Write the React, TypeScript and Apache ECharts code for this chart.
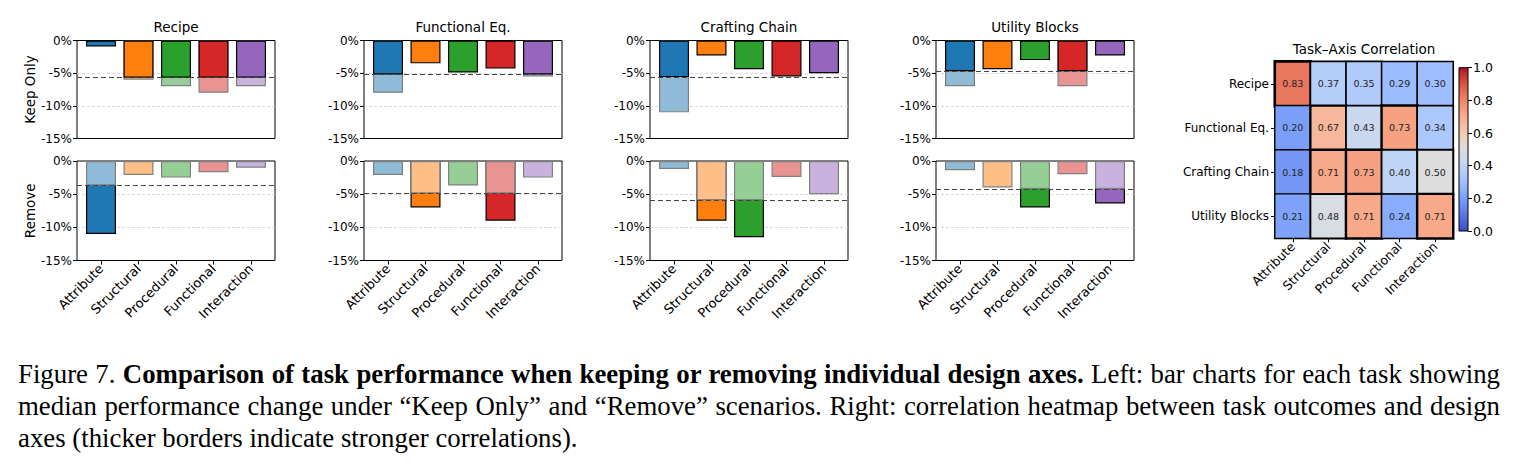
import React, { useEffect, useRef } from 'react';
import * as echarts from 'echarts';

// ---------- data ----------
const tasks = ['Recipe', 'Functional Eq.', 'Crafting Chain', 'Utility Blocks'];
const designAxes = ['Attribute', 'Structural', 'Procedural', 'Functional', 'Interaction'];
const scenarios = ['Keep Only', 'Remove'];

const keepRecipe = [-0.9, -6.0, -7.0, -8.0, -7.0];
const keepFunctionalEq = [-8.0, -3.5, -4.9, -4.3, -5.5];
const keepCraftingChain = [-11.0, -2.3, -4.4, -5.5, -5.0];
const keepUtilityBlocks = [-7.0, -4.4, -3.0, -7.0, -2.3];

const removeRecipe = [-11.0, -2.1, -2.5, -1.7, -1.0];
const removeFunctionalEq = [-2.1, -7.0, -3.7, -9.0, -2.5];
const removeCraftingChain = [-1.2, -9.0, -11.5, -2.4, -5.0];
const removeUtilityBlocks = [-1.4, -4.0, -7.0, -2.0, -6.4];

const keepReference = [-5.7, -5.2, -5.6, -4.7];
const removeReference = [-3.7, -4.9, -5.9, -4.2];

const yTicks = [0, -5, -10, -15];

const corrRecipe = [0.83, 0.37, 0.35, 0.29, 0.30];
const corrFunctionalEq = [0.20, 0.67, 0.43, 0.73, 0.34];
const corrCraftingChain = [0.18, 0.71, 0.73, 0.40, 0.50];
const corrUtilityBlocks = [0.21, 0.48, 0.71, 0.24, 0.71];
const colorbarTicks = [0, 0.2, 0.4, 0.6, 0.8, 1.0];

// ---------- styles ----------
const darkColors = ['#1f77b4', '#ff7f0e', '#2ca02c', '#d62728', '#9467bd'];
const lightColors = ['#8fbbd9', '#ffbf86', '#95cf95', '#ea9393', '#c9b3de'];
const coolwarm = [
  '#3b4cc0', '#445acc', '#4d68d7', '#5775e1', '#6282ea', '#6c8ef1', '#779af7', '#82a5fb',
  '#8db0fe', '#98b9ff', '#a3c2ff', '#aec9fd', '#b8d0f9', '#c2d5f4', '#ccd9ee', '#d5dbe6',
  '#dddddd', '#e5d8d1', '#ecd3c5', '#f1ccb8', '#f5c4ac', '#f7bb9f', '#f7b193', '#f7a686',
  '#f49a7b', '#f18d6f', '#ec7f63', '#e57058', '#de604d', '#d55042', '#cb3e38', '#c0282f',
  '#b40426',
];

const FONT = 'DejaVu Sans';
const colLeft = [77, 364, 650, 936];
const rowTop = [40.5, 161];
const rowHeight = [98, 99.5];
const panelWidth = 198;

function App() {
  const ref = useRef<HTMLDivElement>(null);

  useEffect(() => {
    if (!ref.current) return;
    const chart = echarts.init(ref.current, undefined, { renderer: 'svg' });

    const keepVals = [keepRecipe, keepFunctionalEq, keepCraftingChain, keepUtilityBlocks];
    const removeVals = [removeRecipe, removeFunctionalEq, removeCraftingChain, removeUtilityBlocks];
    const corr = [corrRecipe, corrFunctionalEq, corrCraftingChain, corrUtilityBlocks];

    const grids: any[] = [];
    const xAxes: any[] = [];
    const yAxes: any[] = [];
    const series: any[] = [];

    for (let r = 0; r < 2; r++) {
      for (let c = 0; c < 4; c++) {
        const gi = r * 4 + c;
        grids.push({
          left: colLeft[c], top: rowTop[r], width: panelWidth, height: rowHeight[r],
          show: true, borderColor: '#000', borderWidth: 1, backgroundColor: 'transparent',
        });
        xAxes.push({
          gridIndex: gi, type: 'value', min: -0.64, max: 4.64, position: 'bottom',
          axisLine: { show: false, onZero: false }, splitLine: { show: false },
          axisTick: { show: r === 1, customValues: [0, 1, 2, 3, 4], length: 4, lineStyle: { color: '#000' } },
          axisLabel: {
            show: r === 1, customValues: [0, 1, 2, 3, 4], rotate: 45, fontSize: 13, fontFamily: FONT,
            color: '#000', margin: 6,
            formatter: (v: number) => designAxes[Math.round(v)] ?? '',
          },
        });
        yAxes.push({
          gridIndex: gi, type: 'value', min: yTicks[yTicks.length - 1], max: yTicks[0], interval: 5,
          position: 'left',
          axisLine: { show: false, onZero: false },
          axisTick: { show: true, length: 4, lineStyle: { color: '#000' } },
          axisLabel: { fontSize: 12, fontFamily: FONT, color: '#000', margin: 5, formatter: (v: number) => `${v}%` },
          splitLine: {
            show: true, showMinLine: false, showMaxLine: false,
            lineStyle: { color: '#d0d0d0', type: [3, 2], width: 0.8 },
          },
        });

        const vals = r === 0 ? keepVals[c] : removeVals[c];
        const t = r === 0 ? keepReference[c] : removeReference[c];
        const beyond = vals.map((v, i) => ({ v, i })).filter((d) => d.v < t);
        const markLine = {
          silent: true, symbol: 'none', label: { show: false },
          lineStyle: { color: '#444', type: [5, 3], width: 1.2 },
          data: [{ yAxis: t }],
        };
        if (r === 0) {
          series.push({
            type: 'bar', xAxisIndex: gi, yAxisIndex: gi, barWidth: 30, barGap: '-100%',
            data: beyond.map((d) => ({ value: [d.i, d.v], itemStyle: { color: lightColors[d.i] } })),
            itemStyle: { borderColor: '#808080', borderWidth: 1.2 },
          });
          series.push({
            type: 'bar', xAxisIndex: gi, yAxisIndex: gi, barWidth: 30, barGap: '-100%',
            data: vals.map((v, i) => ({ value: [i, Math.max(v, t)], itemStyle: { color: darkColors[i] } })),
            itemStyle: { borderColor: '#000', borderWidth: 1.2 },
            markLine,
          });
        } else {
          series.push({
            type: 'bar', xAxisIndex: gi, yAxisIndex: gi, barWidth: 30, barGap: '-100%',
            data: beyond.map((d) => ({ value: [d.i, d.v], itemStyle: { color: darkColors[d.i] } })),
            itemStyle: { borderColor: '#000', borderWidth: 1.2 },
          });
          series.push({
            type: 'bar', xAxisIndex: gi, yAxisIndex: gi, barWidth: 30, barGap: '-100%',
            data: vals.map((v, i) => ({ value: [i, Math.max(v, t)], itemStyle: { color: lightColors[i] } })),
            itemStyle: { borderColor: '#808080', borderWidth: 1.2 },
            markLine,
          });
        }
      }
    }

    // heatmap grid (8)
    grids.push({ left: 1275, top: 61.7, width: 178, height: 176.6 });
    xAxes.push({
      gridIndex: 8, type: 'category', data: designAxes,
      axisLine: { show: false, onZero: false },
      axisTick: { show: true, alignWithLabel: true, length: 4, lineStyle: { color: '#000' } },
      axisLabel: { rotate: 45, fontSize: 12.5, fontFamily: FONT, color: '#000', margin: 6 },
      splitLine: { show: false },
    });
    yAxes.push({
      gridIndex: 8, type: 'category', data: tasks, inverse: true,
      axisLine: { show: false, onZero: false },
      axisTick: { show: true, alignWithLabel: true, length: 4, lineStyle: { color: '#000' } },
      axisLabel: { fontSize: 12, fontFamily: FONT, color: '#000', margin: 6 },
      splitLine: { show: false },
    });
    const heatData: any[] = [];
    corr.forEach((row, ri) =>
      row.forEach((v, ci) =>
        heatData.push({ value: [ci, ri, v], itemStyle: { borderColor: '#000', borderWidth: 1 + 2 * v } })
      )
    );
    const heatIndex = series.length;
    series.push({
      type: 'heatmap', xAxisIndex: 8, yAxisIndex: 8, data: heatData,
      label: {
        show: true, fontSize: 9.5, fontFamily: FONT, color: '#222',
        formatter: (p: any) => p.value[2].toFixed(2),
      },
      emphasis: { disabled: true },
    });

    // colorbar grid (9)
    grids.push({
      left: 1459, top: 67.7, width: 9, height: 163.3, show: true, borderColor: '#000', borderWidth: 1,
      backgroundColor: new echarts.graphic.LinearGradient(
        0, 1, 0, 0,
        coolwarm.map((col, i) => ({ offset: i / (coolwarm.length - 1), color: col }))
      ),
    });
    xAxes.push({ gridIndex: 9, type: 'value', min: 0, max: 1, show: false });
    yAxes.push({
      gridIndex: 9, type: 'value', min: colorbarTicks[0], max: colorbarTicks[colorbarTicks.length - 1],
      interval: 0.2, position: 'right',
      axisLine: { show: false, onZero: false },
      axisTick: { show: true, length: 4, lineStyle: { color: '#000' } },
      axisLabel: { fontSize: 12.5, fontFamily: FONT, color: '#000', margin: 5, formatter: (v: number) => v.toFixed(1) },
      splitLine: { show: false },
    });

    const graphic: any[] = [];
    tasks.forEach((name, c) => {
      graphic.push({
        type: 'text', x: colLeft[c] + panelWidth / 2, y: 27,
        style: { text: name, align: 'center', verticalAlign: 'middle', font: `13.5px "${FONT}"`, fill: '#000' },
      });
    });
    scenarios.forEach((name, r) => {
      graphic.push({
        type: 'text', x: 30, y: rowTop[r] + rowHeight[r] / 2, rotation: Math.PI / 2,
        style: { text: name, align: 'center', verticalAlign: 'middle', font: `13.5px "${FONT}"`, fill: '#000' },
      });
    });
    graphic.push({
      type: 'text', x: 1364, y: 49,
      style: { text: 'Task–Axis Correlation', align: 'center', verticalAlign: 'middle', font: `13.5px "${FONT}"`, fill: '#000' },
    });

    chart.setOption({
      animation: false,
      backgroundColor: '#fff',
      textStyle: { fontFamily: FONT },
      grid: grids,
      xAxis: xAxes,
      yAxis: yAxes,
      visualMap: {
        type: 'continuous', min: 0, max: 1, show: false, seriesIndex: heatIndex, dimension: 2,
        inRange: { color: coolwarm },
      },
      graphic,
      series,
    });

    return () => chart.dispose();
  }, []);

  const lineStyle: React.CSSProperties = {
    whiteSpace: 'nowrap', height: 32, lineHeight: '32px',
  };
  const justified: React.CSSProperties = { ...lineStyle, textAlign: 'justify', textAlignLast: 'justify' };

  return (
    <div style={{ position: 'absolute', left: 0, top: 0, width: 1518, height: 470, background: '#fff' }}>
      <div ref={ref} style={{ position: 'absolute', left: 0, top: 0, width: 1518, height: 470 }} />
      <div
        style={{
          position: 'absolute', left: 18, top: 358, width: 1482,
          fontFamily: '"Liberation Serif", serif', fontSize: 26.8, color: '#000',
        }}
      >
        <div style={justified}>
          Figure 7. <b>Comparison of task performance when keeping or removing individual design axes.</b> Left: bar charts for each task showing
        </div>
        <div style={justified}>
          median performance change under “Keep Only” and “Remove” scenarios. Right: correlation heatmap between task outcomes and design
        </div>
        <div style={lineStyle}>axes (thicker borders indicate stronger correlations).</div>
      </div>
    </div>
  );
}

export default App;
